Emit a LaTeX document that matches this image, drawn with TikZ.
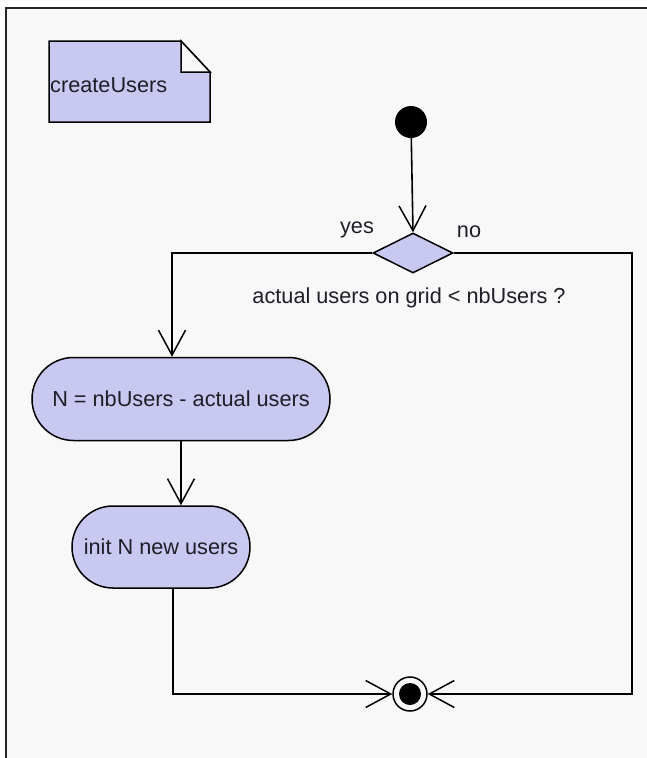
\documentclass[tikz,border=0pt]{standalone}
\usepackage{fontspec}
\setmainfont{Liberation Sans}
\usetikzlibrary{shapes.geometric,shapes.misc,arrows.meta}
\definecolor{actfill}{RGB}{200,200,240}
\definecolor{canvas}{RGB}{248,248,248}
\definecolor{ink}{RGB}{30,30,40}
\begin{document}
\begin{tikzpicture}[x=1pt,y=-1pt,
  every node/.style={font=\fontsize{21.7}{26}\selectfont, text=ink},
  flow/.style={line width=1.6pt, draw=black},
  openv/.style={-{Straight Barb[length=25pt,width=27pt,line width=1.5pt]}},
  action/.style={rounded rectangle, draw=black, line width=1.5pt, fill=actfill, inner sep=0pt},
  decision/.style={diamond, draw=black, line width=1.5pt, fill=actfill, inner sep=0pt,
    minimum width=80pt, minimum height=40pt, aspect=2},
  lbl/.style={inner sep=0pt}]
  % page and canvas frame
  \useasboundingbox (0,0) rectangle (647,758);
  \fill[white] (0,0) rectangle (647,758);
  \fill[canvas, draw=black!85, line width=2pt] (6,8) rectangle (670,780);

  % note with folded corner
  \draw[line width=1.5pt, fill=actfill] (49,41) -- (181,41) -- (210,72) -- (210,122) -- (49,122) -- cycle;
  \draw[line width=1.5pt, fill=canvas] (181,41) -- (181,72) -- (210,72) -- cycle;
  \node[lbl, anchor=west] (note) at (50,85) {createUsers};

  % initial node
  \node[circle, fill=black, minimum size=32pt, inner sep=0pt] (start) at (411,122) {};

  % decision
  \node[decision] (dec) at (413,253) {};
  \node[lbl] (cond) at (409,298) {actual users on grid < nbUsers ?};
  \node[lbl] (yes) at (357,230) {yes};
  \node[lbl] (no) at (469,232) {no};

  % actions
  \node[action, minimum width=298pt, minimum height=83pt] (a1) at (181,399) {N = nbUsers - actual users};
  \node[action, minimum width=178pt, minimum height=82pt] (a2) at (161,547) {init N new users};

  % final node
  \node[circle, draw=black, line width=1.5pt, fill=canvas, minimum size=34pt, inner sep=0pt] (end) at (410,694) {};
  \node[circle, fill=black, minimum size=22pt, inner sep=0pt] (endin) at (end.center) {};

  % connectors
  \coordinate (lcorner) at (172,253);
  \coordinate (rcorner) at (632,253);
  \coordinate (rbottom) at (632,694);
  \coordinate (lbottom) at (173,694);
  \draw[flow, openv] (start) -- (dec.north);
  \draw[flow, openv] (dec.west) -- (lcorner) -- (lcorner |- a1.north);
  \draw[flow, openv] (a1.south) -- (a1.south |- a2.north);
  \draw[flow, openv] (a2.south -| lbottom) -- (lbottom) -- (end.west);
  \draw[flow, openv] (dec.east) -- (rcorner) -- (rbottom) -- (end.east);
\end{tikzpicture}
\end{document}
